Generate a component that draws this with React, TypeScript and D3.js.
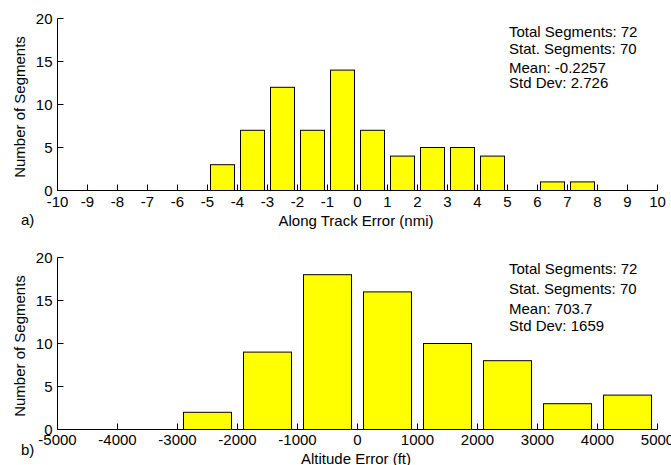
import React from "react";
import * as d3 from "d3";

const W = 671;
const H = 465;

// Panel a) Along track error
const alongBinStarts = [-5, -4, -3, -2, -1, 0, 1, 2, 3, 4, 5, 6, 7];
const alongCounts = [3, 7, 12, 7, 14, 7, 4, 5, 5, 4, 0, 1, 1];
const alongTicks = [-10, -9, -8, -7, -6, -5, -4, -3, -2, -1, 0, 1, 2, 3, 4, 5, 6, 7, 8, 9, 10];
const alongStats = ["Total Segments: 72", "Stat. Segments: 70", "Mean: -0.2257", "Std Dev: 2.726"];

// Panel b) Altitude error
const altBinStarts = [-3000, -2000, -1000, 0, 1000, 2000, 3000, 4000];
const altCounts = [2, 9, 18, 16, 10, 8, 3, 4];
const altTicks = [-5000, -4000, -3000, -2000, -1000, 0, 1000, 2000, 3000, 4000, 5000];
const altStats = ["Total Segments: 72", "Stat. Segments: 70", "Mean: 703.7", "Std Dev: 1659"];

const yTicks = [0, 5, 10, 15, 20];

const FONT = "'Liberation Sans', Arial, Helvetica, sans-serif";
const FS = 15;

type PanelProps = {
  binStarts: number[];
  counts: number[];
  binWidth: number;
  xDomain: [number, number];
  xTicks: number[];
  stats: string[];
  xLabel: string;
  tag: string;
  y0: number;
  y20: number;
  statBaselines: number[];
  tickLabelBaseline: number;
  xLabelBaseline: number;
  tagBaseline: number;
};

function Panel(p: PanelProps) {
  const x = d3.scaleLinear().domain(p.xDomain).range([57.5, 657.5]);
  const y = d3.scaleLinear().domain([0, 20]).range([p.y0, p.y20]);
  const tickLen = 6;
  const midY = (p.y0 + p.y20) / 2 + 2.5;
  return (
    <g>
      <line x1={x.range()[0]} x2={x.range()[0]} y1={y(0)} y2={y(20)} stroke="#000" strokeWidth={1} />
      <line x1={x.range()[0]} x2={x.range()[1]} y1={y(0)} y2={y(0)} stroke="#000" strokeWidth={1} />
      {p.xTicks.map((t) => (
        <g key={"xt" + t}>
          <line x1={x(t)} x2={x(t)} y1={y(0)} y2={y(0) - tickLen} stroke="#000" strokeWidth={1} />
          <text x={x(t)} y={p.tickLabelBaseline} textAnchor="middle" fontFamily={FONT} fontSize={FS} fill="#000">
            {t}
          </text>
        </g>
      ))}
      {yTicks.map((t) => (
        <g key={"yt" + t}>
          <line x1={x.range()[0]} x2={x.range()[0] + tickLen} y1={y(t)} y2={y(t)} stroke="#000" strokeWidth={1} />
          <text x={52.5} y={y(t)} dy="0.35em" textAnchor="end" fontFamily={FONT} fontSize={FS} fill="#000">
            {t}
          </text>
        </g>
      ))}
      {p.binStarts.map((b, i) =>
        p.counts[i] > 0 ? (
          <rect
            key={"bar" + b}
            x={x(b + p.binWidth * 0.1)}
            width={x(b + p.binWidth * 0.9) - x(b + p.binWidth * 0.1)}
            y={y(p.counts[i])}
            height={y(0) - y(p.counts[i])}
            fill="#ffff00"
            stroke="#000"
            strokeWidth={1}
          />
        ) : null
      )}
      <text
        transform={`translate(25,${midY}) rotate(-90)`}
        textAnchor="middle"
        fontFamily={FONT}
        fontSize={FS}
        fill="#000"
      >
        Number of Segments
      </text>
      <text x={356} y={p.xLabelBaseline} textAnchor="middle" fontFamily={FONT} fontSize={FS} fill="#000">
        {p.xLabel}
      </text>
      <text x={21} y={p.tagBaseline} fontFamily={FONT} fontSize={FS} fill="#000">
        {p.tag}
      </text>
      {p.stats.map((s, i) => (
        <text key={"st" + i} x={509} y={p.statBaselines[i]} fontFamily={FONT} fontSize={FS} fill="#000">
          {s}
        </text>
      ))}
    </g>
  );
}

export default function App() {
  return (
    <svg
      width={W}
      height={H}
      viewBox={`0 0 ${W} ${H}`}
      style={{ position: "absolute", left: 0, top: 0, background: "#fff" }}
    >
      <rect x={0} y={0} width={W} height={H} fill="#fff" />
      <Panel
        binStarts={alongBinStarts}
        counts={alongCounts}
        binWidth={1}
        xDomain={[-10, 10]}
        xTicks={alongTicks}
        stats={alongStats}
        xLabel="Along Track Error (nmi)"
        tag="a)"
        y0={190.5}
        y20={18.5}
        statBaselines={[37, 53.5, 72.5, 88]}
        tickLabelBaseline={207}
        xLabelBaseline={226}
        tagBaseline={224.5}
      />
      <Panel
        binStarts={altBinStarts}
        counts={altCounts}
        binWidth={1000}
        xDomain={[-5000, 5000]}
        xTicks={altTicks}
        stats={altStats}
        xLabel="Altitude Error (ft)"
        tag="b)"
        y0={429.5}
        y20={257.5}
        statBaselines={[274, 293.5, 313.5, 330.5]}
        tickLabelBaseline={445}
        xLabelBaseline={464}
        tagBaseline={455}
      />
    </svg>
  );
}
